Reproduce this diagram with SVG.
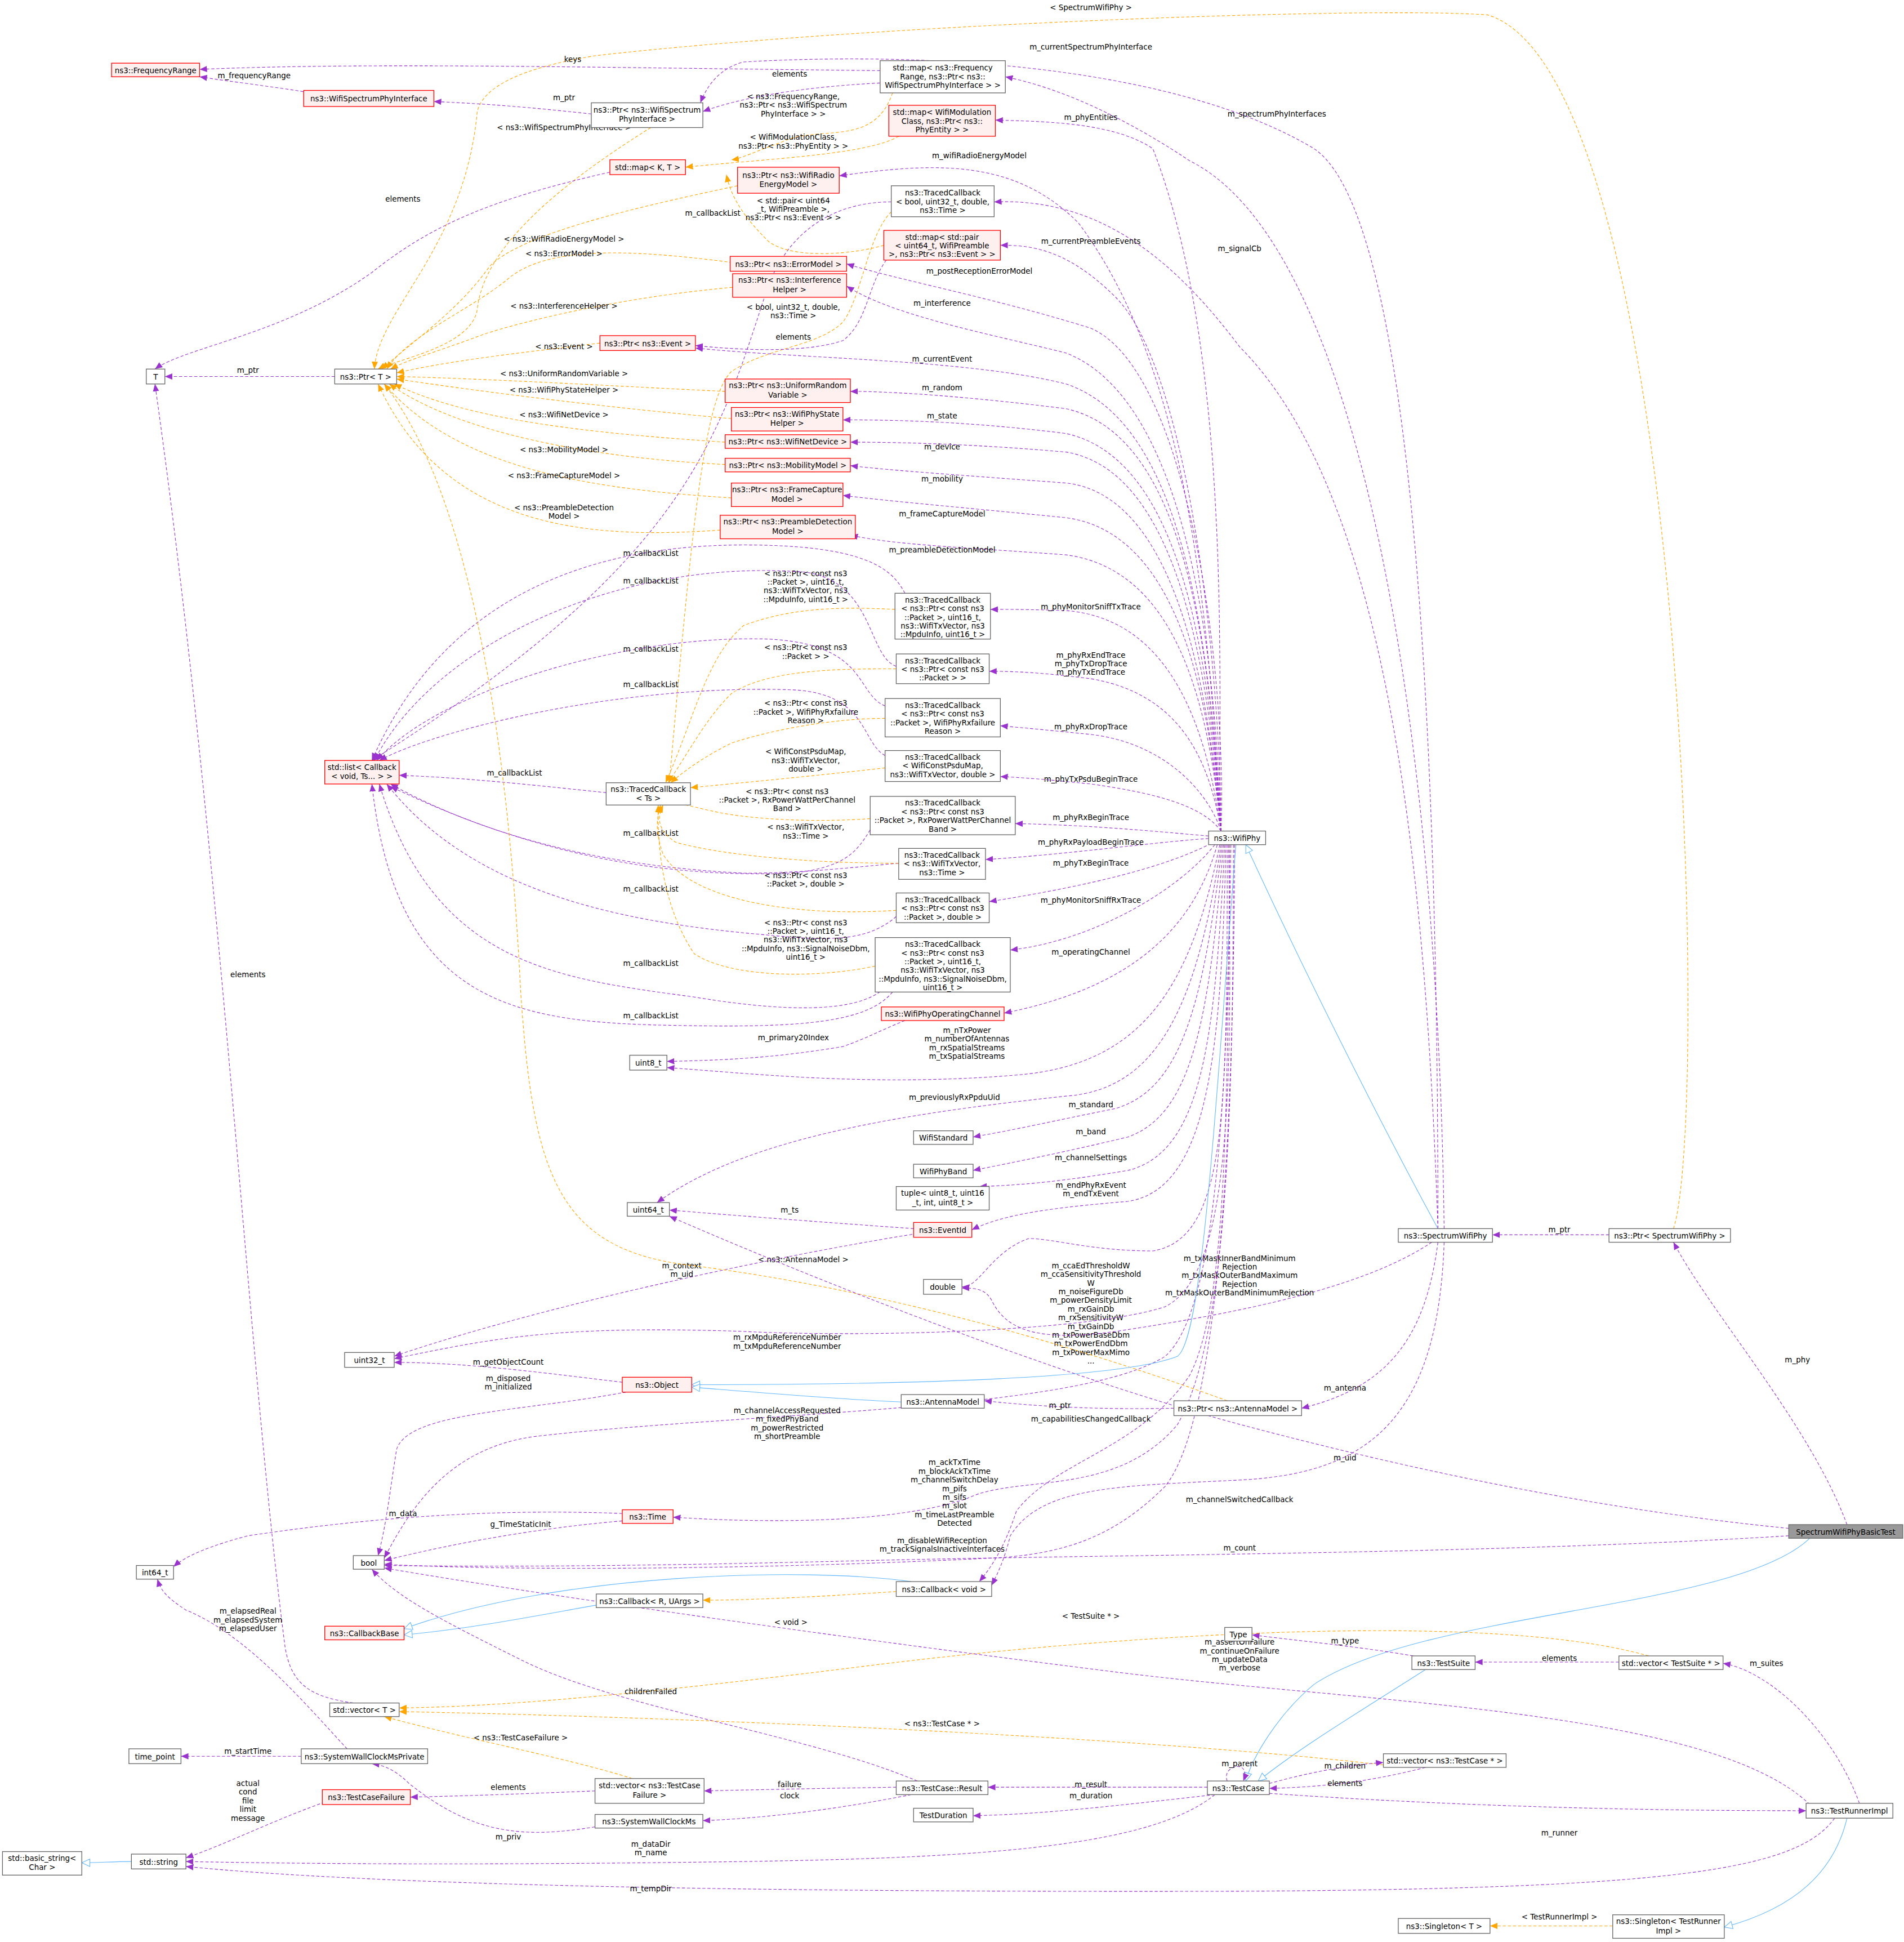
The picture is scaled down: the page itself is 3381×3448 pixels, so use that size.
<svg xmlns="http://www.w3.org/2000/svg" width="3381" height="3448" viewBox="0 0 3381 3448">
<style>
text{font-family:"DejaVu Sans","Liberation Sans",sans-serif;font-size:6.1px;fill:#000}
.nd text{text-anchor:middle}
.lb{text-anchor:middle}
rect.n{fill:#fff;stroke:#666;stroke-width:0.6}
rect.r{fill:#fff0f0;stroke:#f00;stroke-width:0.6}
rect.g{fill:#999;stroke:#666;stroke-width:0.6}
.p{fill:none;stroke:#9a32cd;stroke-width:0.5;stroke-dasharray:2.5,1.6;marker-end:url(#mp)}
.o{fill:none;stroke:orange;stroke-width:0.5;stroke-dasharray:2.5,1.6;marker-end:url(#mo)}
.b{fill:none;stroke:#63b8ff;stroke-width:0.5;marker-end:url(#mb)}
</style>
<defs>
<marker id="mp" markerUnits="userSpaceOnUse" markerWidth="7" markerHeight="6" refX="6" refY="3" orient="auto"><path d="M0,0.5 L6,3 L0,5.5Z" fill="#9a32cd"/></marker>
<marker id="mo" markerUnits="userSpaceOnUse" markerWidth="7" markerHeight="6" refX="6" refY="3" orient="auto"><path d="M0,0.5 L6,3 L0,5.5Z" fill="orange"/></marker>
<marker id="mb" markerUnits="userSpaceOnUse" markerWidth="8" markerHeight="7" refX="7" refY="3.5" orient="auto"><path d="M0.5,0.5 L7,3.5 L0.5,6.5Z" fill="#fff" stroke="#63b8ff" stroke-width="0.5"/></marker>
</defs>
<rect width="3381" height="3448" fill="#fff"/>
<g transform="scale(2.2012,2.199)">
<g id="connectors">
<!-- top -->
<path class="o" d="M1350,992 C1380,900 1360,60 1200,12 C1100,5 700,20 480,45 C420,55 390,70 385,90 C375,200 305,250 302,298"/>
<text class="lb" x="880" y="8">&lt; SpectrumWifiPhy &gt;</text>
<path class="p" d="M1160,992 C1160,700 1150,180 1060,120 C960,60 780,40 600,50 C580,55 570,70 565,83"/>
<text class="lb" x="880" y="40">m_currentSpectrumPhyInterface</text>
<path class="p" d="M1165,992 C1160,600 1100,200 960,130 C900,90 850,70 811,62"/>
<text class="lb" x="1030" y="94">m_spectrumPhyInterfaces</text>
<path class="p" d="M710,57 C500,55 300,50 161,56"/>
<text class="lb" x="462" y="50">keys</text>
<path class="p" d="M710,67 C650,70 600,78 567,90"/>
<text class="lb" x="637" y="62">elements</text>
<path class="p" d="M277,80 C240,72 200,68 161,62"/>
<text class="lb" x="205" y="63">m_frequencyRange</text>
<path class="p" d="M477,92 C440,88 400,84 350,82"/>
<text class="lb" x="455" y="81">m_ptr</text>
<path class="o" d="M720,75 C705,120 660,100 630,115 C610,122 598,128 590,129"/>
<text class="lb" x="640" y="80">&lt; ns3::FrequencyRange,</text><text class="lb" x="640" y="87">ns3::Ptr&lt; ns3::WifiSpectrum</text><text class="lb" x="640" y="94">PhyInterface &gt; &gt;</text>
<path class="o" d="M525,103 C450,150 390,200 385,250 C380,280 320,290 305,298"/>
<text class="lb" x="455" y="105">&lt; ns3::WifiSpectrumPhyInterface &gt;</text>
<path class="o" d="M725,110 C700,125 620,128 553,135"/>
<text class="lb" x="640" y="113">&lt; WifiModulationClass,</text><text class="lb" x="640" y="120">ns3::Ptr&lt; ns3::PhyEntity &gt; &gt;</text>
<path class="p" d="M492,139 C400,160 350,180 300,220 C230,270 150,280 125,298"/>
<text class="lb" x="325" y="163">elements</text>
<path class="p" d="M985,671 C980,600 1000,300 930,120 C900,100 850,98 803,97"/>
<text class="lb" x="880" y="97">m_phyEntities</text>
<path class="p" d="M985,671 C975,500 960,300 870,180 C820,130 760,130 677,142"/>
<text class="lb" x="790" y="128">m_wifiRadioEnergyModel</text>
<path class="o" d="M595,150 C500,170 420,190 395,215 C370,250 340,270 308,298"/>
<text class="lb" x="455" y="195">&lt; ns3::WifiRadioEnergyModel &gt;</text>
<path class="p" d="M1160,992 C1150,700 1120,400 1000,280 C940,200 880,160 802,163"/>
<text class="lb" x="1000" y="203">m_signalCb</text>
<path class="p" d="M719,163 C680,163 640,180 620,230 C580,350 560,450 300,614"/>
<text class="lb" x="575" y="174">m_callbackList</text>
<path class="o" d="M719,171 C700,190 695,240 680,260 C660,280 620,280 590,300 C570,320 560,400 540,632"/>
<text class="lb" x="640" y="250">&lt; bool, uint32_t, double,</text><text class="lb" x="640" y="257">ns3::Time &gt;</text>
<path class="p" d="M985,671 C985,550 960,300 900,240 C860,200 830,198 807,198"/>
<text class="lb" x="880" y="197">m_currentPreambleEvents</text>
<path class="o" d="M713,198 C690,205 640,210 620,195 C600,175 590,160 586,141"/>
<text class="lb" x="640" y="164">&lt; std::pair&lt; uint64</text><text class="lb" x="640" y="171">_t, WifiPreamble &gt;,</text><text class="lb" x="640" y="178">ns3::Ptr&lt; ns3::Event &gt; &gt;</text>
<path class="p" d="M715,210 C700,230 700,260 680,275 C650,285 600,283 561,279"/>
<text class="lb" x="640" y="274">elements</text>
<path class="p" d="M985,671 C990,550 960,300 880,265 C800,240 720,225 683,213"/>
<text class="lb" x="790" y="221">m_postReceptionErrorModel</text>
<path class="o" d="M591,212 C500,200 440,200 410,225 C380,250 330,270 312,298"/>
<text class="lb" x="455" y="207">&lt; ns3::ErrorModel &gt;</text>
<path class="p" d="M985,671 C980,500 950,320 860,285 C800,270 720,255 683,231"/>
<text class="lb" x="760" y="247">m_interference</text>
<path class="o" d="M591,232 C500,240 420,260 390,270 C350,285 330,290 315,298"/>
<text class="lb" x="455" y="249">&lt; ns3::InterferenceHelper &gt;</text>
<path class="p" d="M985,671 C975,500 950,340 860,310 C780,290 650,290 561,281"/>
<text class="lb" x="760" y="292">m_currentEvent</text>
<path class="o" d="M484,277 C420,285 370,290 320,301"/>
<text class="lb" x="455" y="282">&lt; ns3::Event &gt;</text>
<path class="p" d="M270,304 C220,304 170,304 133,304"/>
<text class="lb" x="200" y="301">m_ptr</text>
<path class="p" d="M985,671 C975,500 950,350 860,330 C780,320 720,316 686,316"/>
<text class="lb" x="760" y="315">m_random</text>
<path class="o" d="M585,316 C500,312 400,306 320,304"/>
<text class="lb" x="455" y="304">&lt; ns3::UniformRandomVariable &gt;</text>
<path class="p" d="M985,671 C975,520 950,370 860,350 C780,340 720,339 680,339"/>
<text class="lb" x="760" y="338">m_state</text>
<path class="o" d="M590,338 C500,330 400,318 320,306"/>
<text class="lb" x="455" y="317">&lt; ns3::WifiPhyStateHelper &gt;</text>
<path class="p" d="M985,671 C975,540 950,380 860,365 C780,358 720,357 686,357"/>
<text class="lb" x="760" y="363">m_device</text>
<path class="o" d="M585,357 C480,350 380,340 318,310"/>
<text class="lb" x="455" y="337">&lt; ns3::WifiNetDevice &gt;</text>
<path class="p" d="M985,671 C975,560 950,400 860,390 C780,384 720,380 686,376"/>
<text class="lb" x="760" y="389">m_mobility</text>
<path class="o" d="M585,375 C480,370 370,350 314,310"/>
<text class="lb" x="455" y="365">&lt; ns3::MobilityModel &gt;</text>
<path class="p" d="M985,671 C975,560 950,430 860,418 C780,410 720,405 680,400"/>
<text class="lb" x="760" y="417">m_frameCaptureModel</text>
<path class="o" d="M590,402 C480,395 370,380 310,310"/>
<text class="lb" x="455" y="386">&lt; ns3::FrameCaptureModel &gt;</text>
<path class="p" d="M985,671 C975,570 950,460 860,448 C780,442 720,440 686,432"/>
<text class="lb" x="760" y="446">m_preambleDetectionModel</text>
<path class="o" d="M581,428 C480,435 360,430 305,310"/>
<text class="lb" x="455" y="412">&lt; ns3::PreambleDetection</text><text class="lb" x="455" y="419">Model &gt;</text>
<!-- traced callbacks -->
<path class="p" d="M985,671 C975,600 950,500 860,493 C830,492 815,492 799,492"/>
<text class="lb" x="880" y="492">m_phyMonitorSniffTxTrace</text>
<path class="p" d="M730,479 C720,460 700,440 600,440 C450,440 350,500 300,614"/>
<text class="lb" x="525" y="449">m_callbackList</text>
<path class="o" d="M722,492 C680,490 640,490 600,505 C570,530 560,580 537,632"/>
<text class="lb" x="650" y="465">&lt; ns3::Ptr&lt; const ns3</text><text class="lb" x="650" y="472">::Packet &gt;, uint16_t,</text><text class="lb" x="650" y="479">ns3::WifiTxVector, ns3</text><text class="lb" x="650" y="486">::MpduInfo, uint16_t &gt;</text>
<path class="p" d="M985,671 C975,610 950,560 880,548 C840,543 820,542 798,542"/>
<text class="lb" x="880" y="531">m_phyRxEndTrace</text><text class="lb" x="880" y="538">m_phyTxDropTrace</text><text class="lb" x="880" y="545">m_phyTxEndTrace</text>
<path class="p" d="M723,538 C700,530 705,470 650,462 C500,450 350,520 302,614"/>
<text class="lb" x="525" y="471">m_callbackList</text>
<path class="o" d="M723,540 C680,540 620,540 590,560 C570,580 560,600 539,632"/>
<text class="lb" x="650" y="525">&lt; ns3::Ptr&lt; const ns3</text><text class="lb" x="650" y="532">::Packet &gt; &gt;</text>
<path class="p" d="M985,671 C975,640 940,600 880,593 C850,590 830,588 807,586"/>
<text class="lb" x="880" y="589">m_phyRxDropTrace</text>
<path class="p" d="M714,570 C690,560 700,520 620,516 C500,512 350,560 304,614"/>
<text class="lb" x="525" y="526">m_callbackList</text>
<path class="o" d="M714,580 C670,580 620,590 590,600 C570,610 555,620 541,632"/>
<text class="lb" x="650" y="570">&lt; ns3::Ptr&lt; const ns3</text><text class="lb" x="650" y="577">::Packet &gt;, WifiPhyRxfailure</text><text class="lb" x="650" y="584">Reason &gt;</text>
<path class="p" d="M985,671 C970,650 930,640 880,633 C850,630 830,628 807,627"/>
<text class="lb" x="880" y="631">m_phyTxPsduBeginTrace</text>
<path class="p" d="M714,610 C695,600 700,560 640,557 C500,552 350,590 306,614"/>
<text class="lb" x="525" y="555">m_callbackList</text>
<path class="o" d="M714,620 C670,625 620,630 557,636"/>
<text class="lb" x="650" y="609">&lt; WifiConstPsduMap,</text><text class="lb" x="650" y="616">ns3::WifiTxVector,</text><text class="lb" x="650" y="623">double &gt;</text>
<path class="p" d="M489,640 C440,635 380,628 322,626"/>
<text class="lb" x="415" y="626">m_callbackList</text>
<path class="p" d="M975,675 C940,672 880,666 819,665"/>
<text class="lb" x="880" y="662">m_phyRxBeginTrace</text>
<path class="o" d="M702,661 C660,664 610,662 580,656 C560,652 550,648 545,650"/>
<text class="lb" x="635" y="641">&lt; ns3::Ptr&lt; const ns3</text><text class="lb" x="635" y="648">::Packet &gt;, RxPowerWattPerChannel</text><text class="lb" x="635" y="655">Band &gt;</text>
<path class="p" d="M975,677 C930,680 860,690 795,694"/>
<text class="lb" x="880" y="682">m_phyRxPayloadBeginTrace</text>
<path class="p" d="M725,697 C690,700 650,705 600,705 C500,700 400,680 315,633"/>
<text class="lb" x="525" y="675">m_callbackList</text>
<path class="o" d="M725,697 C650,697 580,690 545,680 C530,670 530,660 535,650"/>
<text class="lb" x="650" y="670">&lt; ns3::WifiTxVector,</text><text class="lb" x="650" y="677">ns3::Time &gt;</text>
<path class="p" d="M977,681 C940,700 880,715 798,728"/>
<text class="lb" x="880" y="699">m_phyTxBeginTrace</text>
<path class="p" d="M702,670 C690,690 680,700 640,705 C560,708 450,700 315,635"/>
<path class="o" d="M723,735 C650,740 560,730 535,690 C528,670 530,660 533,650"/>
<text class="lb" x="650" y="709">&lt; ns3::Ptr&lt; const ns3</text><text class="lb" x="650" y="716">::Packet &gt;, double &gt;</text>
<path class="p" d="M723,740 C700,760 670,760 620,755 C500,745 380,720 312,633"/>
<text class="lb" x="525" y="720">m_callbackList</text>
<path class="p" d="M980,682 C950,720 880,760 815,767"/>
<text class="lb" x="880" y="729">m_phyMonitorSniffRxTrace</text>
<path class="o" d="M706,780 C660,790 590,790 560,770 C540,740 530,700 531,650"/>
<text class="lb" x="650" y="747">&lt; ns3::Ptr&lt; const ns3</text><text class="lb" x="650" y="754">::Packet &gt;, uint16_t,</text><text class="lb" x="650" y="761">ns3::WifiTxVector, ns3</text><text class="lb" x="650" y="768">::MpduInfo, ns3::SignalNoiseDbm,</text><text class="lb" x="650" y="775">uint16_t &gt;</text>
<path class="p" d="M716,795 C700,815 650,820 560,805 C450,790 350,780 306,633"/>
<text class="lb" x="525" y="780">m_callbackList</text>
<path class="p" d="M720,801 C700,825 650,830 550,828 C420,826 320,815 300,633"/>
<text class="lb" x="525" y="822">m_callbackList</text>
<path class="p" d="M982,682 C960,760 900,800 810,818"/>
<text class="lb" x="880" y="771">m_operatingChannel</text>
<path class="p" d="M730,824 C710,832 700,838 680,845 C620,855 580,856 538,857"/>
<text class="lb" x="640" y="840">m_primary20Index</text>
<path class="p" d="M984,682 C960,800 920,860 820,868 C700,878 600,866 538,862"/>
<text class="lb" x="780" y="834">m_nTxPower</text><text class="lb" x="780" y="841">m_numberOfAntennas</text><text class="lb" x="780" y="848">m_rxSpatialStreams</text><text class="lb" x="780" y="855">m_txSpatialStreams</text>
<path class="p" d="M985,682 C965,820 930,880 860,885 C720,900 600,920 530,971"/>
<text class="lb" x="770" y="888">m_previouslyRxPpduUid</text>
<path class="p" d="M986,682 C970,820 950,880 900,895 C850,905 820,912 785,918"/>
<text class="lb" x="880" y="894">m_standard</text>
<path class="p" d="M987,682 C975,830 960,900 910,918 C860,930 820,938 785,945"/>
<text class="lb" x="880" y="916">m_band</text>
<path class="p" d="M988,682 C980,840 970,930 910,945 C850,955 820,957 790,958"/>
<text class="lb" x="880" y="937">m_channelSettings</text>
<path class="p" d="M989,682 C985,850 975,960 910,970 C850,975 810,980 784,993"/>
<text class="lb" x="880" y="959">m_endPhyRxEvent</text><text class="lb" x="880" y="966">m_endTxEvent</text>
<path class="p" d="M737,992 C680,988 600,982 540,977"/>
<text class="lb" x="637" y="979">m_ts</text>
<path class="p" d="M740,996 C650,1010 450,1050 318,1095"/>
<text class="lb" x="550" y="1024">m_context</text><text class="lb" x="550" y="1031">m_uid</text>
<path class="p" d="M990,682 C990,900 990,1000 930,1010 C880,1010 850,1000 830,1000 C800,1010 790,1040 776,1039"/>
<text class="lb" x="880" y="1024">m_ccaEdThresholdW</text><text class="lb" x="880" y="1031">m_ccaSensitivityThreshold</text><text class="lb" x="880" y="1038">W</text><text class="lb" x="880" y="1045">m_noiseFigureDb</text><text class="lb" x="880" y="1052">m_powerDensityLimit</text><text class="lb" x="880" y="1059">m_rxGainDb</text><text class="lb" x="880" y="1066">m_rxSensitivityW</text><text class="lb" x="880" y="1073">m_txGainDb</text><text class="lb" x="880" y="1080">m_txPowerBaseDbm</text><text class="lb" x="880" y="1087">m_txPowerEndDbm</text><text class="lb" x="880" y="1094">m_txPowerMaxMimo</text><text class="lb" x="880" y="1101">...</text>
<path class="p" d="M1155,1003 C1100,1040 1000,1060 900,1075 C830,1085 810,1070 800,1050 C795,1040 785,1040 776,1040"/>
<text class="lb" x="1000" y="1018">m_txMaskInnerBandMinimum</text><text class="lb" x="1000" y="1025">Rejection</text><text class="lb" x="1000" y="1032">m_txMaskOuterBandMaximum</text><text class="lb" x="1000" y="1039">Rejection</text><text class="lb" x="1000" y="1046">m_txMaskOuterBandMinimumRejection</text>
<path class="p" d="M991,682 C995,900 990,1030 940,1055 C880,1075 700,1080 600,1075 C450,1070 400,1080 318,1097"/>
<text class="lb" x="635" y="1082">m_rxMpduReferenceNumber</text><text class="lb" x="635" y="1089">m_txMpduReferenceNumber</text>
<path class="o" d="M990,1131 C850,1080 700,1040 560,1022 C450,1010 430,950 420,800 C410,600 380,400 310,310"/>
<text class="lb" x="648" y="1019">&lt; ns3::AntennaModel &gt;</text>
<path class="p" d="M1160,1003 C1150,1080 1120,1120 1050,1137"/>
<text class="lb" x="1085" y="1123">m_antenna</text>
<path class="p" d="M947,1137 C900,1138 850,1137 794,1131"/>
<text class="lb" x="855" y="1137">m_ptr</text>
<path class="p" d="M992,682 C990,900 990,1050 960,1110 C920,1170 850,1180 820,1220 C810,1250 800,1265 790,1277"/>
<text class="lb" x="880" y="1148">m_capabilitiesChangedCallback</text>
<path class="p" d="M993,682 C990,900 980,1060 940,1095 C870,1140 600,1140 430,1160 C360,1170 330,1220 310,1258"/>
<text class="lb" x="635" y="1141">m_channelAccessRequested</text><text class="lb" x="635" y="1148">m_fixedPhyBand</text><text class="lb" x="635" y="1155">m_powerRestricted</text><text class="lb" x="635" y="1162">m_shortPreamble</text>
<path class="p" d="M995,682 C995,900 990,1080 950,1150 C900,1210 820,1190 780,1210 C720,1230 620,1230 543,1225"/>
<text class="lb" x="770" y="1183">m_ackTxTime</text><text class="lb" x="770" y="1190">m_blockAckTxTime</text><text class="lb" x="770" y="1197">m_channelSwitchDelay</text><text class="lb" x="770" y="1204">m_pifs</text><text class="lb" x="770" y="1211">m_sifs</text><text class="lb" x="770" y="1218">m_slot</text><text class="lb" x="770" y="1225">m_timeLastPreamble</text><text class="lb" x="770" y="1232">Detected</text>
<path class="p" d="M1165,1003 C1160,1150 1100,1190 1000,1195 C900,1200 840,1200 815,1240 C810,1260 805,1270 800,1280"/>
<text class="lb" x="1000" y="1213">m_channelSwitchedCallback</text>
<path class="p" d="M996,682 C995,950 980,1150 940,1200 C900,1240 860,1255 800,1258 C600,1268 400,1268 310,1263"/>
<text class="lb" x="760" y="1246">m_disableWifiReception</text><text class="lb" x="760" y="1253">m_trackSignalsInactiveInterfaces</text>
<path class="p" d="M1443,1234 C1300,1220 1150,1190 1000,1150 C850,1110 650,1030 540,982"/>
<text class="lb" x="1085" y="1179">m_uid</text>
<path class="p" d="M1443,1240 C1200,1255 900,1255 700,1260 C500,1265 400,1265 310,1264"/>
<text class="lb" x="1000" y="1252">m_count</text>
<path class="p" d="M1490,1231 C1460,1150 1380,1060 1350,1003"/>
<text class="lb" x="1450" y="1100">m_phy</text>
<path class="p" d="M1298,997 C1270,997 1240,997 1204,997"/>
<text class="lb" x="1258" y="995">m_ptr</text>
<!-- inheritance -->
<path class="b" d="M1160,992 C1110,900 1050,780 1005,682"/>
<path class="b" d="M997,682 C980,900 970,1080 950,1095 C900,1115 700,1118 558,1118"/>
<path class="b" d="M727,1132 C680,1130 620,1125 558,1120"/>
<path class="b" d="M1460,1242 C1400,1300 1150,1300 1060,1360 C1030,1385 1010,1420 1005,1438"/>
<path class="b" d="M1150,1348 C1100,1380 1050,1410 1015,1438"/>
<path class="b" d="M735,1277 C650,1265 450,1270 326,1315"/>
<path class="b" d="M481,1296 C430,1305 380,1315 326,1320"/>
<path class="b" d="M106,1503 C90,1503 80,1504 66,1504"/>
<path class="b" d="M1490,1468 C1480,1510 1450,1540 1391,1556"/>
<!-- bottom -->
<path class="p" d="M502,1116 C450,1110 380,1100 318,1100"/>
<text class="lb" x="410" y="1102">m_getObjectCount</text>
<path class="p" d="M505,1124 C420,1140 330,1140 320,1170 C315,1200 312,1230 305,1256"/>
<text class="lb" x="410" y="1115">m_disposed</text><text class="lb" x="410" y="1122">m_initialized</text>
<path class="p" d="M502,1222 C400,1218 300,1225 200,1240 C170,1248 150,1256 140,1265"/>
<text class="lb" x="325" y="1224">m_data</text>
<path class="p" d="M502,1228 C420,1235 350,1250 310,1260"/>
<text class="lb" x="420" y="1233">g_TimeStaticInit</text>
<path class="o" d="M723,1285 C650,1290 600,1292 567,1292"/>
<text class="lb" x="638" y="1312">&lt; void &gt;</text>
<path class="p" d="M1140,1337 C1100,1330 1050,1325 1010,1320"/>
<text class="lb" x="1085" y="1327">m_type</text>
<path class="p" d="M1306,1342 C1260,1342 1230,1342 1190,1342"/>
<text class="lb" x="1258" y="1341">elements</text>
<path class="o" d="M1330,1337 C1200,1300 900,1320 700,1345 C500,1370 400,1378 322,1379"/>
<text class="lb" x="880" y="1307">&lt; TestSuite * &gt;</text>
<path class="p" d="M1460,1457 C1380,1380 1100,1375 900,1350 C700,1325 450,1290 310,1266"/>
<text class="lb" x="1000" y="1328">m_assertOnFailure</text><text class="lb" x="1000" y="1335">m_continueOnFailure</text><text class="lb" x="1000" y="1342">m_updateData</text><text class="lb" x="1000" y="1349">m_verbose</text>
<path class="p" d="M740,1438 C650,1400 500,1380 420,1340 C360,1310 320,1290 300,1267"/>
<text class="lb" x="525" y="1368">childrenFailed</text>
<path class="o" d="M1116,1425 C900,1400 500,1385 322,1382"/>
<text class="lb" x="760" y="1394">&lt; ns3::TestCase * &gt;</text>
<path class="o" d="M510,1436 C460,1420 380,1405 310,1386"/>
<text class="lb" x="420" y="1405">&lt; ns3::TestCaseFailure &gt;</text>
<path class="p" d="M285,1375 C250,1370 235,1360 230,1330 C200,1100 180,700 125,310"/>
<text class="lb" x="200" y="789">elements</text>
<path class="p" d="M280,1412 C250,1380 200,1320 150,1300 C135,1290 130,1285 127,1275"/>
<text class="lb" x="200" y="1303">m_elapsedReal</text><text class="lb" x="200" y="1310">m_elapsedSystem</text><text class="lb" x="200" y="1317">m_elapsedUser</text>
<path class="p" d="M243,1418 C210,1418 180,1418 146,1418"/>
<text class="lb" x="200" y="1416">m_startTime</text>
<path class="p" d="M480,1446 C430,1448 380,1450 331,1451"/>
<text class="lb" x="410" y="1445">elements</text>
<path class="p" d="M480,1475 C420,1485 380,1480 330,1440 C320,1430 310,1425 300,1424"/>
<text class="lb" x="410" y="1485">m_priv</text>
<path class="p" d="M723,1443 C660,1444 610,1445 568,1446"/>
<text class="lb" x="637" y="1443">failure</text>
<path class="p" d="M735,1449 C680,1460 620,1468 567,1470"/>
<text class="lb" x="637" y="1452">clock</text>
<path class="p" d="M974,1443 C900,1443 850,1443 797,1443"/>
<text class="lb" x="880" y="1443">m_result</text>
<path class="p" d="M980,1449 C900,1458 840,1465 785,1466"/>
<text class="lb" x="880" y="1452">m_duration</text>
<path class="p" d="M990,1438 C985,1425 1010,1420 1003,1438"/>
<text class="lb" x="1000" y="1426">m_parent</text>
<path class="p" d="M1024,1440 C1060,1430 1090,1425 1116,1423"/>
<text class="lb" x="1085" y="1428">m_children</text>
<path class="p" d="M1150,1427 C1100,1440 1060,1443 1024,1444"/>
<text class="lb" x="1085" y="1442">elements</text>
<path class="p" d="M1024,1448 C1200,1460 1350,1462 1457,1462"/>
<text class="lb" x="1258" y="1482">m_runner</text>
<path class="p" d="M1500,1456 C1480,1400 1430,1350 1390,1343"/>
<text class="lb" x="1425" y="1345">m_suites</text>
<path class="p" d="M262,1455 C220,1470 180,1490 150,1500"/>
<text class="lb" x="200" y="1442">actual</text><text class="lb" x="200" y="1449">cond</text><text class="lb" x="200" y="1456">file</text><text class="lb" x="200" y="1463">limit</text><text class="lb" x="200" y="1470">message</text>
<path class="p" d="M980,1449 C930,1490 800,1500 600,1503 C400,1506 250,1505 150,1503"/>
<text class="lb" x="525" y="1491">m_dataDir</text><text class="lb" x="525" y="1498">m_name</text>
<path class="p" d="M1480,1468 C1450,1510 1350,1525 1000,1527 C600,1528 300,1522 150,1507"/>
<text class="lb" x="525" y="1527">m_tempDir</text>
<path class="o" d="M1301,1555 C1260,1555 1230,1555 1202,1555"/>
<text class="lb" x="1258" y="1550">&lt; TestRunnerImpl &gt;</text>
</g>
<!-- nodes -->
<g class="nd">
<g id="n_freq"><rect class="r" x="90" y="51" width="71" height="11"/><text x="125.5" y="59">ns3::FrequencyRange</text></g>
<g id="n_wspi"><rect class="r" x="245" y="73" width="105" height="13"/><text x="297.5" y="82">ns3::WifiSpectrumPhyInterface</text></g>
<g id="n_ptrwspi"><rect class="n" x="477" y="83" width="90" height="20"/><text x="522" y="91">ns3::Ptr&lt; ns3::WifiSpectrum</text><text x="522" y="98">PhyInterface &gt;</text></g>
<g id="n_mapfreq"><rect class="n" x="710" y="49" width="101" height="26"/><text x="760.5" y="57">std::map&lt; ns3::Frequency</text><text x="760.5" y="64">Range, ns3::Ptr&lt; ns3::</text><text x="760.5" y="71">WifiSpectrumPhyInterface &gt; &gt;</text></g>
<g id="n_mapmod"><rect class="r" x="717" y="85" width="86" height="25"/><text x="760" y="93">std::map&lt; WifiModulation</text><text x="760" y="100">Class, ns3::Ptr&lt; ns3::</text><text x="760" y="107">PhyEntity &gt; &gt;</text></g>
<g id="n_mapkt"><rect class="r" x="492" y="129" width="61" height="12"/><text x="522.5" y="137.5">std::map&lt; K, T &gt;</text></g>
<g id="n_energy"><rect class="r" x="595" y="135" width="82" height="21"/><text x="636" y="143.5">ns3::Ptr&lt; ns3::WifiRadio</text><text x="636" y="151">EnergyModel &gt;</text></g>
<g id="n_tcbool"><rect class="n" x="719" y="150" width="83" height="25"/><text x="760.5" y="158">ns3::TracedCallback</text><text x="760.5" y="165">&lt; bool, uint32_t, double,</text><text x="760.5" y="172">ns3::Time &gt;</text></g>
<g id="n_mappair"><rect class="r" x="713" y="186" width="94" height="24"/><text x="760" y="193.5">std::map&lt; std::pair</text><text x="760" y="200.5">&lt; uint64_t, WifiPreamble</text><text x="760" y="207.5">&gt;, ns3::Ptr&lt; ns3::Event &gt; &gt;</text></g>
<g id="n_err"><rect class="r" x="589" y="207" width="94" height="12"/><text x="636" y="215.5">ns3::Ptr&lt; ns3::ErrorModel &gt;</text></g>
<g id="n_interf"><rect class="r" x="591" y="221" width="92" height="19"/><text x="637" y="228.5">ns3::Ptr&lt; ns3::Interference</text><text x="637" y="236">Helper &gt;</text></g>
<g id="n_event"><rect class="r" x="484" y="271" width="77" height="12"/><text x="522.5" y="279.5">ns3::Ptr&lt; ns3::Event &gt;</text></g>
<g id="n_T"><rect class="n" x="118" y="298" width="15" height="12"/><text x="125.5" y="306.5">T</text></g>
<g id="n_ptrT"><rect class="n" x="270" y="298" width="50" height="12"/><text x="295" y="306.5">ns3::Ptr&lt; T &gt;</text></g>
<g id="n_rand"><rect class="r" x="585" y="306" width="101" height="19"/><text x="635.5" y="313.5">ns3::Ptr&lt; ns3::UniformRandom</text><text x="635.5" y="321">Variable &gt;</text></g>
<g id="n_state"><rect class="r" x="590" y="329" width="90" height="19"/><text x="635" y="336.5">ns3::Ptr&lt; ns3::WifiPhyState</text><text x="635" y="344">Helper &gt;</text></g>
<g id="n_dev"><rect class="r" x="585" y="351" width="101" height="11"/><text x="635.5" y="359">ns3::Ptr&lt; ns3::WifiNetDevice &gt;</text></g>
<g id="n_mob"><rect class="r" x="585" y="370" width="101" height="11"/><text x="635.5" y="378">ns3::Ptr&lt; ns3::MobilityModel &gt;</text></g>
<g id="n_fc"><rect class="r" x="590" y="390" width="90" height="19"/><text x="635" y="397.5">ns3::Ptr&lt; ns3::FrameCapture</text><text x="635" y="405">Model &gt;</text></g>
<g id="n_pd"><rect class="r" x="581" y="416" width="109" height="19"/><text x="635.5" y="423.5">ns3::Ptr&lt; ns3::PreambleDetection</text><text x="635.5" y="431">Model &gt;</text></g>
<g id="n_tc1"><rect class="n" x="722" y="479" width="77" height="37"/><text x="760.5" y="486.5">ns3::TracedCallback</text><text x="760.5" y="493.5">&lt; ns3::Ptr&lt; const ns3</text><text x="760.5" y="500.5">::Packet &gt;, uint16_t,</text><text x="760.5" y="507.5">ns3::WifiTxVector, ns3</text><text x="760.5" y="514.5">::MpduInfo, uint16_t &gt;</text></g>
<g id="n_tc2"><rect class="n" x="723" y="528" width="75" height="24"/><text x="760.5" y="535.5">ns3::TracedCallback</text><text x="760.5" y="542.5">&lt; ns3::Ptr&lt; const ns3</text><text x="760.5" y="549.5">::Packet &gt; &gt;</text></g>
<g id="n_tc3"><rect class="n" x="714" y="564" width="93" height="31"/><text x="760.5" y="571.5">ns3::TracedCallback</text><text x="760.5" y="578.5">&lt; ns3::Ptr&lt; const ns3</text><text x="760.5" y="585.5">::Packet &gt;, WifiPhyRxfailure</text><text x="760.5" y="592.5">Reason &gt;</text></g>
<g id="n_tc4"><rect class="n" x="714" y="606" width="93" height="25"/><text x="760.5" y="613.5">ns3::TracedCallback</text><text x="760.5" y="620.5">&lt; WifiConstPsduMap,</text><text x="760.5" y="627.5">ns3::WifiTxVector, double &gt;</text></g>
<g id="n_tcts"><rect class="n" x="489" y="632" width="68" height="18"/><text x="523" y="639.5">ns3::TracedCallback</text><text x="523" y="646.5">&lt; Ts &gt;</text></g>
<g id="n_list"><rect class="r" x="262" y="614" width="60" height="19"/><text x="292" y="621.5">std::list&lt; Callback</text><text x="292" y="629">&lt; void, Ts... &gt; &gt;</text></g>
<g id="n_tc5"><rect class="n" x="702" y="643" width="117" height="31"/><text x="760.5" y="650.5">ns3::TracedCallback</text><text x="760.5" y="657.5">&lt; ns3::Ptr&lt; const ns3</text><text x="760.5" y="664.5">::Packet &gt;, RxPowerWattPerChannel</text><text x="760.5" y="671.5">Band &gt;</text></g>
<g id="n_tc6"><rect class="n" x="725" y="685" width="70" height="25"/><text x="760" y="692.5">ns3::TracedCallback</text><text x="760" y="699.5">&lt; ns3::WifiTxVector,</text><text x="760" y="706.5">ns3::Time &gt;</text></g>
<g id="n_tc7"><rect class="n" x="723" y="721" width="75" height="24"/><text x="760.5" y="728.5">ns3::TracedCallback</text><text x="760.5" y="735.5">&lt; ns3::Ptr&lt; const ns3</text><text x="760.5" y="742.5">::Packet &gt;, double &gt;</text></g>
<g id="n_tc8"><rect class="n" x="706" y="757" width="109" height="44"/><text x="760.5" y="764.5">ns3::TracedCallback</text><text x="760.5" y="771.5">&lt; ns3::Ptr&lt; const ns3</text><text x="760.5" y="778.5">::Packet &gt;, uint16_t,</text><text x="760.5" y="785.5">ns3::WifiTxVector, ns3</text><text x="760.5" y="792.5">::MpduInfo, ns3::SignalNoiseDbm,</text><text x="760.5" y="799.5">uint16_t &gt;</text></g>
<g id="n_opch"><rect class="r" x="711" y="813" width="99" height="11"/><text x="760.5" y="821">ns3::WifiPhyOperatingChannel</text></g>
<g id="n_wifiphy"><rect class="n" x="975" y="671" width="46" height="11"/><text x="998" y="679">ns3::WifiPhy</text></g>
<g id="n_u8"><rect class="n" x="508" y="852" width="30" height="12"/><text x="523" y="860.5">uint8_t</text></g>
<g id="n_std"><rect class="n" x="737" y="913" width="48" height="11"/><text x="761" y="921">WifiStandard</text></g>
<g id="n_band"><rect class="n" x="737" y="940" width="48" height="11"/><text x="761" y="948">WifiPhyBand</text></g>
<g id="n_tuple"><rect class="n" x="723" y="958" width="75" height="19"/><text x="760.5" y="965.5">tuple&lt; uint8_t, uint16</text><text x="760.5" y="973">_t, int, uint8_t &gt;</text></g>
<g id="n_u64"><rect class="n" x="506" y="971" width="34" height="11"/><text x="523" y="979">uint64_t</text></g>
<g id="n_evid"><rect class="r" x="737" y="987" width="47" height="12"/><text x="760.5" y="995.5">ns3::EventId</text></g>
<g id="n_double"><rect class="n" x="745" y="1033" width="31" height="12"/><text x="760.5" y="1041.5">double</text></g>
<g id="n_u32"><rect class="n" x="278" y="1092" width="40" height="12"/><text x="298" y="1100.5">uint32_t</text></g>
<g id="n_obj"><rect class="r" x="502" y="1112" width="56" height="12"/><text x="530" y="1120.5">ns3::Object</text></g>
<g id="n_ant"><rect class="n" x="727" y="1126" width="67" height="11"/><text x="760.5" y="1134">ns3::AntennaModel</text></g>
<g id="n_ptrant"><rect class="n" x="947" y="1131" width="103" height="12"/><text x="998.5" y="1139.5">ns3::Ptr&lt; ns3::AntennaModel &gt;</text></g>
<g id="n_swp"><rect class="n" x="1128" y="992" width="76" height="11"/><text x="1166" y="1000">ns3::SpectrumWifiPhy</text></g>
<g id="n_ptrswp"><rect class="n" x="1298" y="992" width="98" height="11"/><text x="1347" y="1000">ns3::Ptr&lt; SpectrumWifiPhy &gt;</text></g>
<g id="n_test"><rect class="g" x="1443" y="1231" width="92" height="11"/><text x="1489" y="1239">SpectrumWifiPhyBasicTest</text></g>
<g id="n_time"><rect class="r" x="502" y="1219" width="41" height="11"/><text x="522.5" y="1227">ns3::Time</text></g>
<g id="n_i64"><rect class="n" x="110" y="1264" width="30" height="11"/><text x="125" y="1272">int64_t</text></g>
<g id="n_bool"><rect class="n" x="285" y="1256" width="25" height="11"/><text x="297.5" y="1264">bool</text></g>
<g id="n_cbv"><rect class="n" x="723" y="1277" width="77" height="12"/><text x="761.5" y="1285.5">ns3::Callback&lt; void &gt;</text></g>
<g id="n_cbr"><rect class="n" x="481" y="1287" width="86" height="11"/><text x="524" y="1295">ns3::Callback&lt; R, UArgs &gt;</text></g>
<g id="n_cbb"><rect class="r" x="262" y="1313" width="64" height="11"/><text x="294" y="1321">ns3::CallbackBase</text></g>
<g id="n_type"><rect class="n" x="988" y="1314" width="22" height="11"/><text x="999" y="1322">Type</text></g>
<g id="n_suite"><rect class="n" x="1139" y="1337" width="51" height="11"/><text x="1164.5" y="1345">ns3::TestSuite</text></g>
<g id="n_vsuite"><rect class="n" x="1306" y="1337" width="84" height="11"/><text x="1348" y="1345">std::vector&lt; TestSuite * &gt;</text></g>
<g id="n_vT"><rect class="n" x="266" y="1375" width="56" height="11"/><text x="294" y="1383">std::vector&lt; T &gt;</text></g>
<g id="n_tp"><rect class="n" x="104" y="1412" width="42" height="12"/><text x="125" y="1420.5">time_point</text></g>
<g id="n_swcmp"><rect class="n" x="243" y="1412" width="102" height="12"/><text x="294" y="1420.5">ns3::SystemWallClockMsPrivate</text></g>
<g id="n_tcf"><rect class="r" x="260" y="1445" width="71" height="12"/><text x="295.5" y="1453.5">ns3::TestCaseFailure</text></g>
<g id="n_vtcf"><rect class="n" x="480" y="1436" width="88" height="20"/><text x="524" y="1444">std::vector&lt; ns3::TestCase</text><text x="524" y="1451.5">Failure &gt;</text></g>
<g id="n_res"><rect class="n" x="723" y="1438" width="74" height="11"/><text x="760" y="1446">ns3::TestCase::Result</text></g>
<g id="n_tcase"><rect class="n" x="974" y="1438" width="50" height="11"/><text x="999" y="1446">ns3::TestCase</text></g>
<g id="n_vtc"><rect class="n" x="1116" y="1416" width="99" height="11"/><text x="1165.5" y="1424">std::vector&lt; ns3::TestCase * &gt;</text></g>
<g id="n_swcm"><rect class="n" x="480" y="1465" width="87" height="11"/><text x="523.5" y="1473">ns3::SystemWallClockMs</text></g>
<g id="n_dur"><rect class="n" x="737" y="1460" width="48" height="11"/><text x="761" y="1468">TestDuration</text></g>
<g id="n_runner"><rect class="n" x="1457" y="1456" width="70" height="12"/><text x="1492" y="1464.5">ns3::TestRunnerImpl</text></g>
<g id="n_bstr"><rect class="n" x="2" y="1495" width="64" height="19"/><text x="34" y="1502.5">std::basic_string&lt;</text><text x="34" y="1510">Char &gt;</text></g>
<g id="n_str"><rect class="n" x="106" y="1497" width="44" height="12"/><text x="128" y="1505.5">std::string</text></g>
<g id="n_singT"><rect class="n" x="1128" y="1549" width="74" height="12"/><text x="1165" y="1557.5">ns3::Singleton&lt; T &gt;</text></g>
<g id="n_singR"><rect class="n" x="1301" y="1546" width="90" height="19"/><text x="1346" y="1553.5">ns3::Singleton&lt; TestRunner</text><text x="1346" y="1561">Impl &gt;</text></g>
</g>
</g>
</svg>
